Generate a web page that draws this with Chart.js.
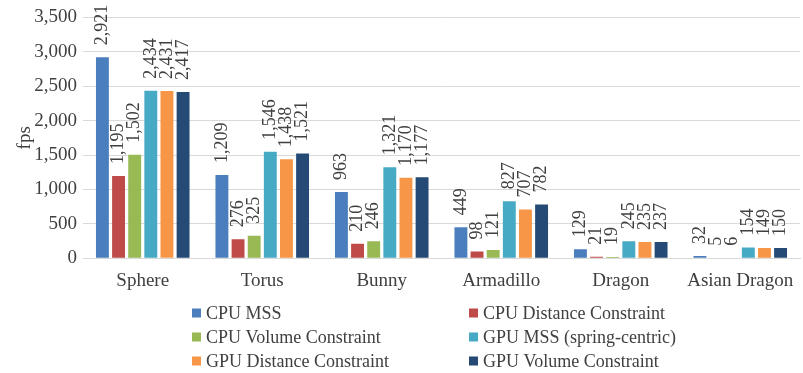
<!DOCTYPE html>
<html>
<head>
<meta charset="utf-8">
<script src="https://cdn.jsdelivr.net/npm/chart.js@4/dist/chart.umd.min.js"></script>
<style>
  html, body { margin: 0; padding: 0; background: #fff; }
  #wrap { width: 803px; height: 373px; }
</style>
</head>
<body>
<div id="wrap"><canvas id="c" width="803" height="373"></canvas></div>
<script>
// Models benchmarked
const models = ['Sphere', 'Torus', 'Bunny', 'Armadillo', 'Dragon', 'Asian Dragon'];

// Frames per second for each simulation method
const cpuMss          = [2921, 1209, 963, 449, 129, 32];
const cpuDistance     = [1195, 276, 210, 98, 21, 5];
const cpuVolume       = [1502, 325, 246, 121, 19, 6];
const gpuMssSpring    = [2434, 1546, 1321, 827, 245, 154];
const gpuDistance     = [2431, 1438, 1170, 707, 235, 149];
const gpuVolume       = [2417, 1521, 1177, 782, 237, 150];

const seriesNames = [
  'CPU MSS', 'CPU Distance Constraint', 'CPU Volume Constraint',
  'GPU MSS (spring-centric)', 'GPU Distance Constraint', 'GPU Volume Constraint'
];
const seriesColors = ['#4A7EBD', '#BE4B48', '#98B954', '#46AAC5', '#F79646', '#254A76'];

const FONT = '"Liberation Serif", "Times New Roman", serif';
const TEXT = '#404040';
const fmt = v => v.toLocaleString('en-US');

const seriesValues = [cpuMss, cpuDistance, cpuVolume, gpuMssSpring, gpuDistance, gpuVolume];

// Vertical value labels above each bar
const barValueLabels = {
  id: 'barValueLabels',
  afterDatasetsDraw(chart) {
    const ctx = chart.ctx;
    ctx.save();
    ctx.font = '18px ' + FONT;
    ctx.fillStyle = TEXT;
    ctx.textAlign = 'left';
    ctx.textBaseline = 'middle';
    chart.data.datasets.forEach((ds, di) => {
      const meta = chart.getDatasetMeta(di);
      meta.data.forEach((bar, i) => {
        ctx.save();
        ctx.translate(bar.x, bar.y - 12);
        ctx.rotate(-Math.PI / 2);
        ctx.fillText(fmt(ds.data[i]), 0, 0);
        ctx.restore();
      });
    });
    ctx.restore();
  }
};

// Two-column legend beneath the axis
const twoColumnLegend = {
  id: 'twoColumnLegend',
  afterDraw(chart) {
    const ctx = chart.ctx;
    const colX = [192, 469];
    const rowY = [313, 337, 361];
    ctx.save();
    ctx.font = '18px ' + FONT;
    ctx.textBaseline = 'middle';
    ctx.textAlign = 'left';
    chart.data.datasets.forEach((ds, i) => {
      const x = colX[i % 2];
      const y = rowY[Math.floor(i / 2)];
      ctx.fillStyle = ds.backgroundColor;
      ctx.fillRect(x, y - 4.5, 9, 9);
      ctx.fillStyle = TEXT;
      ctx.fillText(ds.label, x + 14, y + 1);
    });
    ctx.restore();
  }
};

new Chart(document.getElementById('c'), {
  type: 'bar',
  data: {
    labels: models,
    datasets: seriesNames.map((name, i) => ({
      label: name,
      data: seriesValues[i],
      backgroundColor: seriesColors[i],
      borderWidth: 0,
      barPercentage: 0.8,
      categoryPercentage: 0.81
    }))
  },
  options: {
    responsive: false,
    animation: false,
    devicePixelRatio: 1,
    layout: { padding: { top: 7, right: 3, bottom: 78, left: 0 } },
    plugins: {
      legend: { display: false },
      tooltip: { enabled: false }
    },
    scales: {
      x: {
        grid: { display: false },
        border: { display: true, color: '#D9D9D9' },
        ticks: { color: TEXT, font: { family: FONT, size: 19 }, padding: 3 }
      },
      y: {
        min: 0,
        max: 3500,
        afterFit: scale => { scale.width = 83; },
        ticks: {
          stepSize: 500,
          color: TEXT,
          font: { family: FONT, size: 19 },
          padding: 6,
          callback: v => fmt(v)
        },
        grid: { color: '#D9D9D9', lineWidth: 1, drawTicks: false },
        border: { display: false },
        title: {
          display: true,
          text: 'fps',
          color: TEXT,
          font: { family: FONT, size: 19 },
          padding: { top: 14, bottom: 0 }
        }
      }
    }
  },
  plugins: [barValueLabels, twoColumnLegend]
});
</script>
</body>
</html>
